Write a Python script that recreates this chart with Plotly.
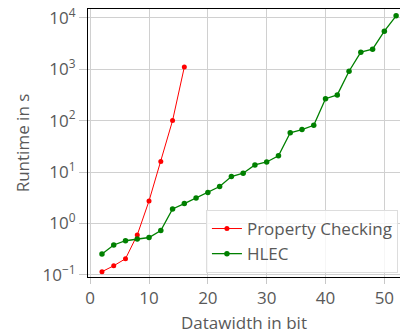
import plotly.graph_objects as go

pc_x = [2, 4, 6, 8, 10, 12, 14, 16]
pc_y = [0.116, 0.151, 0.207, 0.6, 2.75, 16.1, 100, 1100]

hlec_x = [2, 4, 6, 8, 10, 12, 14, 16, 18, 20, 22, 24, 26, 28, 30, 32, 34, 36, 38, 40, 42, 44, 46, 48, 50, 52]
hlec_y = [0.256, 0.383, 0.463, 0.50, 0.535, 0.73, 1.92, 2.44, 3.14, 4.0, 5.23, 8.2, 9.5, 13.8, 15.7,
          20.7, 58, 67, 81, 267, 316, 910, 2140, 2440, 5470, 10900]

y_tick_vals = [0.1, 1, 10, 100, 1000, 10000]
y_tick_text = ["10<sup>−1</sup>", "10<sup>0</sup>", "10<sup>1</sup>", "10<sup>2</sup>", "10<sup>3</sup>", "10<sup>4</sup>"]

fig = go.Figure()
fig.add_trace(go.Scatter(x=pc_x, y=pc_y, mode="lines+markers", name="Property Checking",
                         line=dict(color="#ff0000", width=1), marker=dict(size=5, color="#ff0000")))
fig.add_trace(go.Scatter(x=hlec_x, y=hlec_y, mode="lines+markers", name="HLEC",
                         line=dict(color="#008000", width=1.3), marker=dict(size=5.5, color="#008000")))

font_color = "#595959"
fig.update_layout(
    width=400, height=334,
    margin=dict(l=88, r=0, t=9, b=57),
    paper_bgcolor="white", plot_bgcolor="white",
    font=dict(family="Open Sans", size=17, color=font_color),
    legend=dict(x=0.378, y=0.015, xanchor="left", yanchor="bottom",
                bgcolor="rgba(255,255,255,0.8)", bordercolor="#dddddd", borderwidth=1,
                font=dict(size=17, color=font_color)),
    showlegend=True,
)
fig.update_xaxes(range=[-0.374, 52.66], dtick=10, tick0=0, showgrid=True, gridcolor="#d0d0d0", gridwidth=1,
                 zeroline=False, showline=True, linecolor="black", linewidth=1, mirror=True,
                 ticks="outside", ticklen=6, tickcolor="#c8c8c8",
                 title=dict(text="Datawidth in bit", standoff=8, font=dict(size=17, color=font_color)))
fig.update_yaxes(type="log", range=[-1.039, 4.169], tickvals=y_tick_vals, ticktext=y_tick_text,
                 showgrid=True, gridcolor="#d0d0d0", gridwidth=1,
                 zeroline=False, showline=True, linecolor="black", linewidth=1, mirror=True,
                 ticks="outside", ticklen=8, tickcolor="#c8c8c8",
                 title=dict(text="Runtime in s", standoff=8, font=dict(size=17, color=font_color)))

fig.write_html("out.html", config={"displayModeBar": False},
               post_script="document.body.style.margin='0';document.body.style.overflow='hidden';")
